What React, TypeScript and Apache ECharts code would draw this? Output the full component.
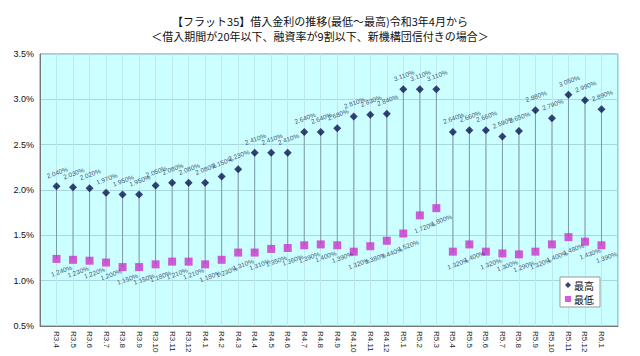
import React, { useEffect, useRef } from "react";
import * as echarts from "echarts";

const titleLines = [
  "【フラット35】借入金利の推移(最低～最高)令和3年4月から",
  "＜借入期間が20年以下、融資率が9割以下、新機構団信付きの場合＞",
];

const categories = [
  "R3.4", "R3.5", "R3.6", "R3.7", "R3.8", "R3.9", "R3.10", "R3.11", "R3.12",
  "R4.1", "R4.2", "R4.3", "R4.4", "R4.5", "R4.6", "R4.7", "R4.8", "R4.9", "R4.10", "R4.11", "R4.12",
  "R5.1", "R5.2", "R5.3", "R5.4", "R5.5", "R5.6", "R5.7", "R5.8", "R5.9", "R5.10", "R5.11", "R5.12",
  "R6.1",
];

const highRates = [
  2.04, 2.03, 2.02, 1.97, 1.95, 1.95, 2.05, 2.08, 2.08,
  2.08, 2.15, 2.23, 2.41, 2.41, 2.41, 2.64, 2.64, 2.68, 2.81, 2.83, 2.84,
  3.11, 3.11, 3.11, 2.64, 2.66, 2.66, 2.59, 2.65, 2.88, 2.79, 3.05, 2.99,
  2.89,
];

const lowRates = [
  1.24, 1.23, 1.22, 1.2, 1.15, 1.15, 1.18, 1.21, 1.21,
  1.18, 1.23, 1.31, 1.31, 1.35, 1.36, 1.39, 1.4, 1.39, 1.32, 1.38, 1.44,
  1.52, 1.72, 1.8, 1.32, 1.4, 1.32, 1.3, 1.29, 1.32, 1.4, 1.48, 1.43,
  1.39,
];

const yTicks = { min: 0.5, max: 3.5, interval: 0.5 };

const FONT = "'Noto Sans CJK JP', 'Liberation Sans', sans-serif";

export default function App() {
  const ref = useRef<HTMLDivElement>(null);
  useEffect(() => {
    if (!ref.current) return;
    const chart = echarts.init(ref.current, null, { renderer: "svg" });
    const xData = ["", ...categories, ""];
    const hiData = [null, ...highRates, null];
    const loData = [null, ...lowRates, null];
    const rangeData = categories.map((c, i) => [i + 1, highRates[i], lowRates[i]]);
    const labelStyle = {
      show: true,
      fontSize: 6.5,
      color: "#1a2550",
      fontFamily: "'Liberation Sans', sans-serif",
      rotate: 20,
      formatter: (p: any) => Number(p.value).toFixed(3) + "%",
    };
    chart.setOption({
      animation: false,
      backgroundColor: "#ffffff",
      title: {
        text: titleLines.join("\n"),
        left: "center",
        top: 8,
        textStyle: {
          fontSize: 11,
          fontWeight: "normal",
          color: "#111",
          lineHeight: 15,
          fontFamily: FONT,
        },
      },
      legend: {
        data: [
          { name: "最高", icon: "diamond" },
          { name: "最低", icon: "rect" },
        ],
        orient: "vertical",
        left: 560,
        top: 277,
        itemWidth: 6,
        itemHeight: 6,
        itemGap: 4,
        padding: [3, 6, 3, 5],
        backgroundColor: "#ffffff",
        borderColor: "#999",
        borderWidth: 1,
        textStyle: { fontSize: 10, color: "#111", fontFamily: FONT, padding: [0, 0, 0, -2] },
      },
      grid: {
        left: 40,
        right: 22,
        top: 54,
        bottom: 30,
        show: true,
        backgroundColor: "#ccffff",
        borderColor: "#8a8a8a",
        borderWidth: 1,
      },
      xAxis: {
        type: "category",
        data: xData,
        boundaryGap: false,
        axisLine: { show: true, lineStyle: { color: "#777" } },
        axisTick: { show: false },
        axisLabel: {
          interval: 0,
          rotate: -90,
          fontSize: 8,
          color: "#222",
          margin: 5,
          fontFamily: "'Liberation Sans', sans-serif",
        },
        splitLine: { show: true, lineStyle: { color: "#bde8ec", width: 1 } },
      },
      yAxis: {
        type: "value",
        min: yTicks.min,
        max: yTicks.max,
        interval: yTicks.interval,
        axisLine: { show: true, lineStyle: { color: "#777" } },
        axisTick: { show: false },
        axisLabel: {
          fontSize: 9,
          color: "#111",
          margin: 6,
          fontFamily: "'Liberation Sans', sans-serif",
          formatter: (v: number) => v.toFixed(1) + "%",
        },
        splitLine: { show: true, lineStyle: { color: "#a8d8de", width: 1 } },
      },
      series: [
        {
          type: "custom",
          name: "range",
          z: 1,
          silent: true,
          data: rangeData,
          renderItem: (params: any, api: any) => {
            const x = api.value(0);
            const p1 = api.coord([x, api.value(1)]);
            const p2 = api.coord([x, api.value(2)]);
            return {
              type: "line",
              shape: { x1: p1[0], y1: p1[1], x2: p2[0], y2: p2[1] },
              style: { stroke: "#7d9aa6", lineWidth: 1 },
            };
          },
        },
        {
          type: "scatter",
          name: "最高",
          z: 3,
          symbol: "diamond",
          symbolSize: 8,
          itemStyle: { color: "#0a1450" },
          data: hiData,
          label: { ...labelStyle, position: "top", distance: 6, offset: [2, 0] },
        },
        {
          type: "scatter",
          name: "最低",
          z: 3,
          symbol: "rect",
          symbolSize: 8,
          itemStyle: { color: "#cc33cc" },
          data: loData,
          label: { ...labelStyle, position: "bottom", distance: 6, offset: [4, 0] },
        },
      ],
    });
    return () => chart.dispose();
  }, []);
  return <div ref={ref} style={{ width: 640, height: 356, position: "absolute", left: 0, top: 0 }} />;
}
